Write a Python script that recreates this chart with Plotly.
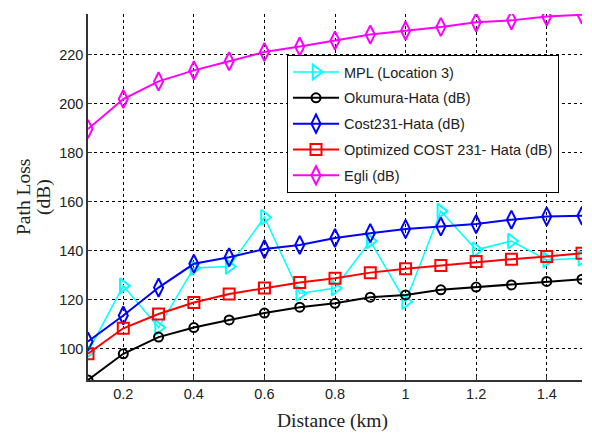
import plotly.graph_objects as go

distance = [0.1, 0.2, 0.3, 0.4, 0.5, 0.6, 0.7, 0.8, 0.9, 1.0, 1.1, 1.2, 1.3, 1.4, 1.5]
mpl = [98.8, 125.7, 108.7, 133.0, 133.6, 153.7, 122.6, 124.8, 144.0, 119.2, 156.2, 140.4, 144.0, 136.3, 137.0]
okumura = [87.3, 98.0, 104.8, 108.7, 111.8, 114.6, 117.0, 118.6, 121.1, 122.0, 124.1, 125.2, 126.1, 127.5, 128.4]
cost231 = [103.0, 113.6, 125.0, 134.7, 137.4, 140.7, 142.4, 145.2, 147.2, 148.9, 149.9, 150.9, 152.7, 154.0, 154.3]
optimized = [98.0, 108.4, 114.2, 118.9, 122.4, 124.8, 127.1, 128.8, 131.1, 132.7, 134.0, 135.6, 136.6, 137.7, 139.0]
egli = [189.7, 201.9, 209.1, 213.6, 217.3, 221.1, 223.3, 225.8, 228.2, 229.8, 231.3, 233.2, 234.0, 235.6, 236.3]

names = ["MPL (Location 3)", "Okumura-Hata (dB)", "Cost231-Hata (dB)",
         "Optimized COST 231- Hata (dB)", "Egli (dB)"]
series = [mpl, okumura, cost231, optimized, egli]
colors = ["#00FFFF", "#000000", "#0000FF", "#FF0000", "#FF00FF"]
symbols = ["triangle-right-open", "circle-open", "diamond-tall-open", "square-open", "diamond-tall-open"]
msizes = [13, 9, 13, 11, 13]
lwidths = [1.5, 2, 2, 2, 2]

fig = go.Figure()
for i in range(5):
    fig.add_trace(go.Scatter(
        x=distance, y=series[i], name=names[i], mode="lines+markers",
        legendgroup=str(i),
        line=dict(color=colors[i], width=lwidths[i]),
        marker=dict(symbol=symbols[i], size=msizes[i], color=colors[i],
                    line=dict(color=colors[i], width=2)),
    ))

# page body has an 8px margin, so the figure is offset by 8px right/down
PW, PH = 494, 366
grid = dict(showgrid=True, gridcolor="black", griddash="dot", gridwidth=1)
tickfont = dict(family="Liberation Sans, Arial", size=14.5, color="#222")
fig.update_layout(
    width=584, height=426,
    margin=dict(l=80, r=10, t=6, b=54),
    paper_bgcolor="white", plot_bgcolor="white",
    showlegend=True,
    legend=dict(x=(287 - 88) / PW, y=(380 - 55) / PH, xanchor="left", yanchor="top",
                bgcolor="white", bordercolor="black", borderwidth=1,
                font=dict(family="Liberation Sans, Arial", size=14.5, color="#222"),
                itemwidth=46, tracegroupgap=4),
    xaxis=dict(range=[0.1, 1.5], tickvals=[0.2, 0.4, 0.6, 0.8, 1.0, 1.2, 1.4],
               ticktext=["0.2", "0.4", "0.6", "0.8", "1", "1.2", "1.4"],
               showline=True, linecolor="#333", linewidth=1.5, mirror=False,
               ticks="inside", ticklen=4, tickcolor="#333",
               tickfont=tickfont, zeroline=False, **grid),
    yaxis=dict(range=[87.3, 236.6], tickvals=[100, 120, 140, 160, 180, 200, 220],
               showline=True, linecolor="#333", linewidth=1.5, mirror=False,
               ticks="inside", ticklen=4, tickcolor="#333",
               tickfont=tickfont, zeroline=False, **grid),
)

labfont = dict(family="Liberation Serif, Times New Roman", size=19.5, color="#222")
fig.add_annotation(text="Path Loss", x=-(88 - 23) / PW, y=(380 - 197) / PH, xref="paper", yref="paper",
                   showarrow=False, textangle=-90, xanchor="center", yanchor="middle", font=labfont)
fig.add_annotation(text="(dB)", x=-(88 - 44) / PW, y=(380 - 197) / PH, xref="paper", yref="paper",
                   showarrow=False, textangle=-90, xanchor="center", yanchor="middle", font=labfont)
fig.add_annotation(text="Distance (km)", x=(332 - 88) / PW, y=-(421 - 380) / PH, xref="paper", yref="paper",
                   showarrow=False, xanchor="center", yanchor="middle", font=labfont)

fig.write_html("out.html")
